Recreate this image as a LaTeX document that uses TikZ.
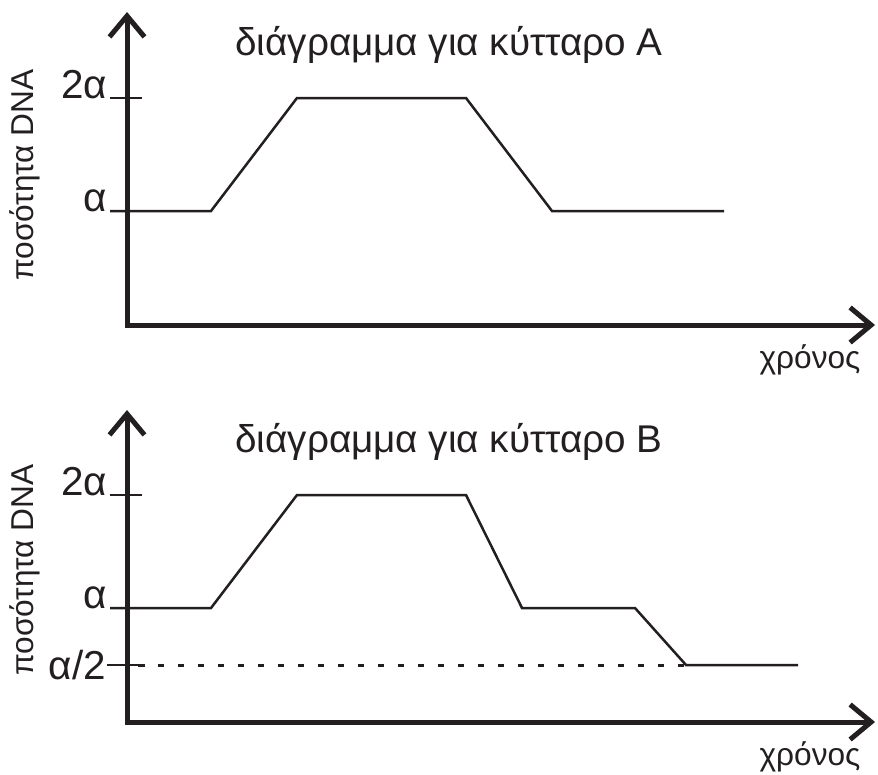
\documentclass[tikz,border=0pt]{standalone}
\usepackage{fontspec}
\setmainfont{Liberation Sans}
\usetikzlibrary{arrows.meta}
\definecolor{ink}{RGB}{35,31,32}
\def\lw{0.05cm}
\def\aw{0.1cm}
\tikzset{
  axis/.style={ink, line width=\aw, line join=miter,
    {Straight Barb[length=0.42cm,width=0.7cm]}-{Straight Barb[length=0.42cm,width=0.7cm]}},
  curve/.style={ink, line width=\lw, line join=miter},
  dots/.style={ink, line width=0.06cm, dash pattern=on 0.13cm off 0.27cm},
  lbl/.style={ink, inner sep=0pt, font=\fontsize{22}{26}\selectfont},
  vlbl/.style={ink, inner sep=0pt, font=\fontsize{23}{27}\selectfont},
  tlbl/.style={ink, inner sep=0pt, font=\fontsize{18}{21}\selectfont},
  ylbl/.style={ink, inner sep=0pt, rotate=90, font=\fontsize{18}{21}\selectfont},
}

\begin{document}
\begin{tikzpicture}[x=0.02cm,y=-0.02cm]
\useasboundingbox (0,0) rectangle (878,774);

\coordinate (Y1) at (127,12);
\coordinate (O1) at (127,325);
\coordinate (X1) at (875,325);
\coordinate (A1) at (110,211);
\coordinate (B1) at (211,211);
\coordinate (C1) at (297,98);
\coordinate (D1) at (466,98);
\coordinate (E1) at (552,211);
\coordinate (F1) at (724,211);
\coordinate (T1) at (110,98);
\coordinate (U1) at (142,98);

\draw[axis] (Y1) -- (O1) -- (X1);
\draw[curve] (A1) node[vlbl, anchor=base east, xshift=-1pt] (al1) {α} -- (B1) -- (C1) -- (D1) -- (E1) -- (F1);
\draw[curve] (T1) node[vlbl, anchor=base east, xshift=-1pt] (bl1) {2α} -- (U1);
\node[lbl, anchor=base] (tt1) at (449,55) {διάγραμμα για κύτταρο A};
\node[tlbl, anchor=base] (xl1) at (810,368) {χρόνος};
\node[ylbl] (yl1) at (25,175) {ποσότητα DNA};

\coordinate (Y2) at (127,410);
\coordinate (O2) at (127,722);
\coordinate (X2) at (875,722);
\coordinate (A2) at (110,608);
\coordinate (B2) at (211,608);
\coordinate (C2) at (297,495);
\coordinate (D2) at (466,495);
\coordinate (E2) at (522,608);
\coordinate (F2) at (635,608);
\coordinate (G2) at (686,665);
\coordinate (H2) at (798,665);
\coordinate (T2) at (110,495);
\coordinate (U2) at (142,495);
\coordinate (P2) at (107,665);
\coordinate (Q2) at (138,665);

\draw[axis] (Y2) -- (O2) -- (X2);
\draw[curve] (A2) node[vlbl, anchor=base east, xshift=-1pt] (al2) {α} -- (B2) -- (C2) -- (D2) -- (E2) -- (F2) -- (G2) -- (H2);
\draw[curve] (T2) node[vlbl, anchor=base east, xshift=-1pt] (bl2) {2α} -- (U2);
\draw[curve] (P2) node[vlbl, anchor=east] (hl2) {α/2} -- (Q2);
\draw[dots] (Q2) -- (G2);
\node[lbl, anchor=base] (tt2) at (449,452) {διάγραμμα για κύτταρο B};
\node[tlbl, anchor=base] (xl2) at (810,765) {χρόνος};
\node[ylbl] (yl2) at (25,570) {ποσότητα DNA};
\end{tikzpicture}
\end{document}
